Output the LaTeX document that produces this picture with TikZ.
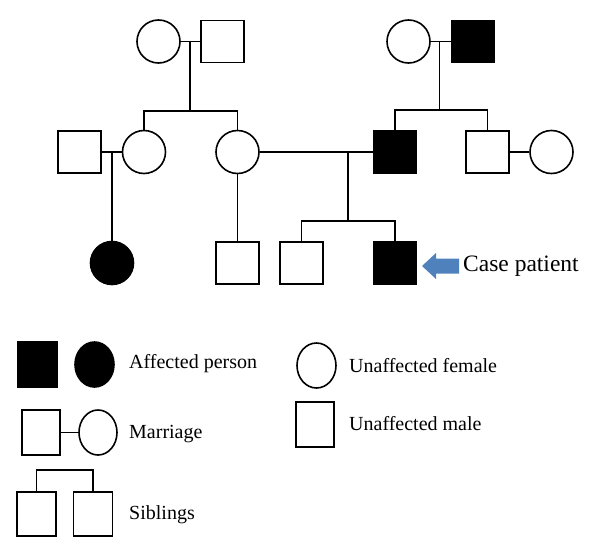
\documentclass[tikz,border=0pt]{standalone}
\usepackage{fontspec}
\setmainfont{Liberation Serif}
\usetikzlibrary{shapes.geometric}
\definecolor{arrowblue}{HTML}{4F81BD}
\tikzset{
  x=1pt, y=-1pt,
  line/.style={line width=1.6pt, black},
  male/.style={rectangle, draw, line width=1.6pt, minimum width=43pt, minimum height=42pt, inner sep=0pt},
  female/.style={circle, draw, line width=1.6pt, minimum size=43pt, inner sep=0pt},
  affected/.style={fill=black},
  lmale/.style={rectangle, draw, line width=1.6pt, minimum width=38pt, minimum height=44pt, inner sep=0pt},
  lfemale/.style={ellipse, draw, line width=1.6pt, minimum width=38pt, minimum height=44pt, inner sep=0pt},
  legtext/.style={anchor=base west, inner sep=0pt, font=\fontsize{20}{24}\selectfont},
}
\begin{document}
\begin{tikzpicture}
\useasboundingbox (0,0) rectangle (600,557);
% generation I
\node[female] (gm1) at (158.5,41.5) {};
\node[male] (gf1) at (222.5,41.5) {};
\node[female] (gm2) at (408.5,41.5) {};
\node[male, affected] (gf2) at (473,41.5) {};
% generation II
\node[male] (m1) at (79.5,152) {};
\node[female] (d1) at (144,152) {};
\node[female] (d2) at (237.5,152) {};
\node[male, affected] (f) at (395,152) {};
\node[male] (u) at (487.5,152) {};
\node[female] (w) at (551.5,152) {};
% generation III
\node[female, affected] (c1) at (112,263) {};
\node[male] (c2) at (237.5,263) {};
\node[male] (c3) at (301.5,263) {};
\node[male, affected] (cp) at (395,263) {};
% junction coordinates
\coordinate (j1) at (190,41.5);
\coordinate (b1) at (190,111);
\coordinate (j2) at (439.5,41.5);
\coordinate (b2) at (439.5,110);
\coordinate (j3) at (112,152);
\coordinate (j4) at (348,152);
\coordinate (b4) at (348,221);
% connectors
\draw[line] (gm1) -- (gf1);
\draw[line] (j1) -- (b1);
\draw[line] (d1.north) |- (b1) -| (d2.north);
\draw[line] (gm2) -- (gf2);
\draw[line] (j2) -- (b2);
\draw[line] (f.north) |- (b2) -| (u.north);
\draw[line] (m1) -- (d1);
\draw[line] (j3) -- (c1.north);
\draw[line] (d2.south) -- (c2.north);
\draw[line] (d2) -- (f);
\draw[line] (u) -- (w);
\draw[line] (j4) -- (b4);
\draw[line] (c3.north) |- (b4) -| (cp.north);
% case arrow
\fill[arrowblue] (422,266) -- (436,253) -- (436,258.5) -- (459,258.5) -- (459,273.5) -- (436,273.5) -- (436,279) -- cycle;
\node[anchor=base west, inner sep=0pt, font=\fontsize{23.5}{27}\selectfont] (cptext) at (463,271) {Case patient};
% legend
\node[lmale, affected, minimum width=39pt, minimum height=45pt] (lfs) at (37.5,364.5) {};
\node[lfemale, affected, minimum width=39pt, minimum height=45pt] (lfc) at (94.5,364.5) {};
\node[legtext] (taff) at (129,368) {Affected person};
\node[lmale, minimum height=45pt] (lms) at (41,432.5) {};
\node[lfemale, minimum height=45pt] (lmc) at (98,432.5) {};
\draw[line] (lms) -- (lmc);
\node[legtext] (tmar) at (129,438) {Marriage};
\node[lmale, minimum width=39pt] (ls1) at (36.5,514) {};
\node[lmale, minimum width=39pt] (ls2) at (93,514) {};
\coordinate (lb) at (65,470);
\draw[line] (ls1.north) |- (lb) -| (ls2.north);
\node[legtext] (tsib) at (129,519) {Siblings};
\node[lfemale, minimum width=39pt, minimum height=45pt] (luf) at (316.5,365.5) {};
\node[legtext] (tuf) at (349,372) {Unaffected female};
\node[lmale, minimum height=45pt] (lum) at (315,424.5) {};
\node[legtext] (tum) at (349,430) {Unaffected male};
\end{tikzpicture}
\end{document}
